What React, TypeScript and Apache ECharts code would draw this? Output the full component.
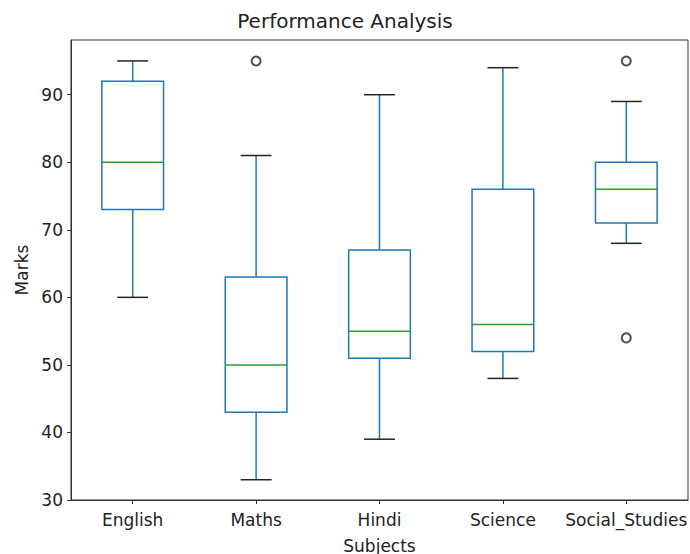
import React, { useEffect, useRef } from "react";
import * as echarts from "echarts";

const subjects = ["English", "Maths", "Hindi", "Science", "Social_Studies"];
// [whiskerLow, q1, median, q3, whiskerHigh]
const lowWhisker = [60, 33, 39, 48, 68];
const q1 = [73, 43, 51, 52, 71];
const median = [80, 50, 55, 56, 76];
const q3 = [92, 63, 67, 76, 80];
const highWhisker = [95, 81, 90, 94, 89];
const outlierSubject = [1, 4, 4];
const outlierValue = [95, 95, 54];
const yTicks = [30, 40, 50, 60, 70, 80, 90];

const FONT = "DejaVu Sans";

export default function App() {
  const ref = useRef<HTMLDivElement>(null);
  useEffect(() => {
    if (!ref.current) return;
    const chart = echarts.init(ref.current, undefined, { renderer: "svg" });
    const boxData = subjects.map((_, i) => [
      i,
      lowWhisker[i],
      q1[i],
      median[i],
      q3[i],
      highWhisker[i],
    ]);
    const outliers = outlierSubject.map((s, i) => [s, outlierValue[i]]);
    const renderItem = (params: any, api: any) => {
      const idx = api.value(0);
      const band = api.size([1, 0])[0];
      const boxHalf = band * 0.25;
      const capHalf = band * 0.125;
      const pLow = api.coord([idx, api.value(1)]);
      const pQ1 = api.coord([idx, api.value(2)]);
      const pMed = api.coord([idx, api.value(3)]);
      const pQ3 = api.coord([idx, api.value(4)]);
      const pHigh = api.coord([idx, api.value(5)]);
      const cx = pQ1[0];
      const blue = "#1f77b4";
      const lw = 1.5;
      return {
        type: "group",
        children: [
          {
            type: "line",
            shape: { x1: cx, y1: pQ1[1], x2: cx, y2: pLow[1] },
            style: { stroke: blue, lineWidth: lw },
          },
          {
            type: "line",
            shape: { x1: cx, y1: pQ3[1], x2: cx, y2: pHigh[1] },
            style: { stroke: blue, lineWidth: lw },
          },
          {
            type: "rect",
            shape: {
              x: cx - boxHalf,
              y: pQ3[1],
              width: boxHalf * 2,
              height: pQ1[1] - pQ3[1],
            },
            style: { fill: "none", stroke: blue, lineWidth: lw },
          },
          {
            type: "line",
            shape: { x1: cx - boxHalf, y1: pMed[1], x2: cx + boxHalf, y2: pMed[1] },
            style: { stroke: "#2ca02c", lineWidth: lw },
          },
          {
            type: "line",
            shape: { x1: cx - capHalf, y1: pLow[1], x2: cx + capHalf, y2: pLow[1] },
            style: { stroke: "#222", lineWidth: lw },
          },
          {
            type: "line",
            shape: { x1: cx - capHalf, y1: pHigh[1], x2: cx + capHalf, y2: pHigh[1] },
            style: { stroke: "#222", lineWidth: lw },
          },
        ],
      };
    };
    chart.setOption({
      animation: false,
      backgroundColor: "#fff",
      title: {
        text: "Performance Analysis",
        left: "center",
        top: 6,
        textStyle: { fontFamily: FONT, fontSize: 20, fontWeight: "normal", color: "#222" },
      },
      grid: {
        left: 71,
        right: 2,
        top: 40,
        bottom: 54,
        show: true,
        borderColor: "#333",
        borderWidth: 1,
        backgroundColor: "transparent",
        containLabel: false,
        outerBoundsMode: "none",
      },
      xAxis: {
        type: "category",
        data: subjects,
        boundaryGap: true,
        name: "Subjects",
        nameLocation: "middle",
        nameGap: 37,
        nameTextStyle: { fontFamily: FONT, fontSize: 17, color: "#222" },
        axisLine: { show: true, lineStyle: { color: "#333", width: 1 } },
        axisTick: { show: true, alignWithLabel: true, length: 4, lineStyle: { color: "#333" } },
        axisLabel: { fontFamily: FONT, fontSize: 17, color: "#222", margin: 11, interval: 0 },
        splitLine: { show: false },
      },
      yAxis: {
        type: "value",
        min: yTicks[0],
        max: 98.1,
        interval: 10,
        name: "Marks",
        nameLocation: "middle",
        nameGap: 40,
        nameTextStyle: { fontFamily: FONT, fontSize: 17, color: "#222" },
        axisLine: { show: true, lineStyle: { color: "#333", width: 1 } },
        axisTick: { show: true, length: 4, lineStyle: { color: "#333" } },
        axisLabel: { fontFamily: FONT, fontSize: 17, color: "#222", margin: 8, showMaxLabel: false },
        splitLine: { show: false },
      },
      series: [
        {
          type: "custom",
          renderItem,
          data: boxData,
          encode: { x: 0, y: [1, 2, 3, 4, 5] },
          z: 2,
        },
        {
          type: "scatter",
          data: outliers,
          symbol: "emptyCircle",
          symbolSize: 9,
          itemStyle: { color: "#222", borderColor: "#222", borderWidth: 1.5 },
          z: 3,
        },
      ],
    });
    return () => chart.dispose();
  }, []);
  return <div ref={ref} style={{ width: 690, height: 554, position: "absolute", left: 0, top: 0 }} />;
}
